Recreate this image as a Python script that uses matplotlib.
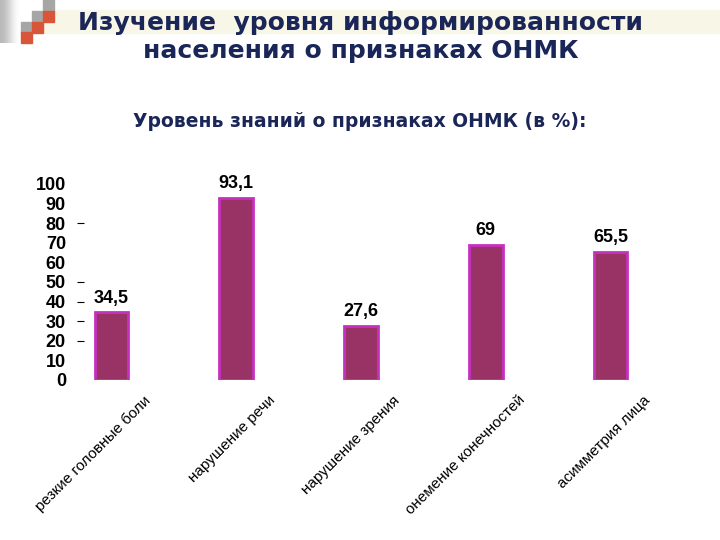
import matplotlib
matplotlib.use("Agg")
import matplotlib.pyplot as plt
import matplotlib.patches as mpatches
from matplotlib.transforms import offset_copy

# данные
categories = ["резкие головные боли", "нарушение речи", "нарушение зрения",
              "онемение конечностей", "асимметрия лица"]
values = [34.5, 93.1, 27.6, 69, 65.5]
value_labels = ["34,5", "93,1", "27,6", "69", "65,5"]
yticks = [0, 10, 20, 30, 40, 50, 60, 70, 80, 90, 100]
dash_ticks = [20, 30, 40, 50, 80]

title = "Изучение  уровня информированности\nнаселения о признаках ОНМК"
subtitle = "Уровень знаний о признаках ОНМК (в %):"

navy = "#1b2658"
bar_fill = "#993366"
bar_edge = "#c630c0"

fig = plt.figure(figsize=(7.2, 5.4), dpi=100)

# декоративные квадратики в углу
grad = fig.add_axes([0, 1 - 43/540, 20/720, 43/540])
grad.imshow([[0.72, 0.85, 1.0]], cmap="gray", vmin=0, vmax=1, aspect="auto",
            interpolation="bicubic")
grad.axis("off")
fig.patches.append(mpatches.Rectangle((43/720, 1 - 33/540), 1 - 43/720, 23/540,
                                      transform=fig.transFigure, color="#f8f6e6", zorder=0))
squares = [(43, 0, "#a6a6a6"), (32, 11, "#a6a6a6"), (43, 11, "#d9553a"),
           (21, 22, "#a6a6a6"), (32, 22, "#d9553a"), (21, 32, "#d9553a")]
for sx, sy, c in squares:
    fig.patches.append(mpatches.Rectangle((sx/720, 1 - (sy + 11)/540), 11/720, 11/540,
                                          transform=fig.transFigure, color=c, zorder=1))

fig.text(361/720, 1 - 37/540, title, ha="center", va="center", fontsize=18,
         fontweight="bold", color=navy, linespacing=1.25, family="DejaVu Sans")
fig.text(360/720, 1 - 122/540, subtitle, ha="center", va="center", fontsize=13.5,
         fontweight="bold", color=navy, family="DejaVu Sans")

ax = fig.add_axes([84/720, 1 - 380/540, (673 - 84)/720, 196/540])
x = range(len(values))
ax.bar(x, values, width=0.27, color=bar_fill, edgecolor=bar_edge, linewidth=2)
ax.set_xlim(-0.22, 4.5)
ax.set_ylim(0, 100)
for s in ax.spines.values():
    s.set_visible(False)

ax.set_yticks(yticks)
ax.set_yticklabels([str(t) for t in yticks], fontsize=13, fontweight="bold",
                   family="Liberation Sans")
ax.tick_params(axis="y", which="major", length=0, pad=13)
ax.yaxis.remove_overlapping_locs = False
ax.set_yticks(dash_ticks, minor=True)
ax.tick_params(axis="y", which="minor", length=5, width=0.8, pad=0)
ax.set_xticks([])

for i, v in enumerate(values):
    ax.annotate(value_labels[i], (i, v), xytext=(0, 4), textcoords="offset points",
                ha="center", va="bottom", fontsize=13, fontweight="bold",
                family="Liberation Sans")

lab_tr = offset_copy(ax.get_xaxis_transform(), fig=fig, x=37, y=-18, units="dots")
for i, c in enumerate(categories):
    ax.text(i, 0, c, transform=lab_tr, rotation=45, rotation_mode="anchor",
            ha="right", va="center", fontsize=11, family="Liberation Sans")

fig.savefig("out.png", dpi=100)
